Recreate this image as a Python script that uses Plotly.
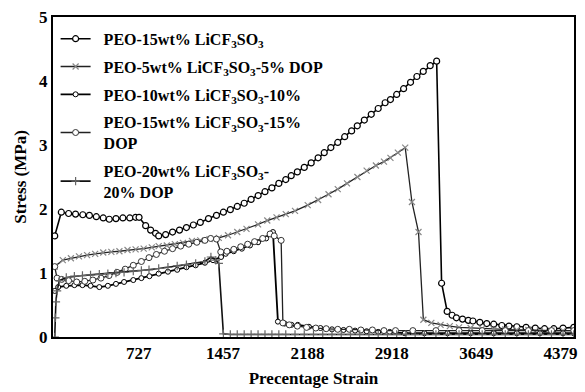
import plotly.graph_objects as go

# Stress-strain curves of PEO / LiCF3SO3 / DOP polymer electrolyte films
x_tick_vals = [727, 1457, 2188, 2918, 3649, 4379]
y_tick_vals = [0, 1, 2, 3, 4, 5]

strain_15_salt = [0, 57, 120, 180, 243, 300, 360, 420, 472, 530, 590, 650, 700, 730, 787, 830, 873, 900,
                  960, 1020, 1080, 1140, 1200, 1260, 1331, 1400, 1460, 1520, 1580, 1640, 1700, 1761,
                  1820, 1880, 1940, 2000, 2047, 2100, 2160, 2220, 2280, 2333, 2390, 2450, 2510, 2570,
                  2619, 2680, 2740, 2800, 2860, 2906, 2960, 3020, 3080, 3135, 3190, 3250, 3306, 3349,
                  3397, 3440, 3477, 3530, 3580, 3620, 3680, 3740, 3800, 3870, 3932, 4000, 4080, 4160,
                  4240, 4320, 4400, 4493]
stress_15_salt = [1.58, 1.95, 1.93, 1.92, 1.91, 1.90, 1.88, 1.86, 1.84, 1.85, 1.86, 1.86, 1.87, 1.87,
                  1.74, 1.67, 1.62, 1.58, 1.60, 1.64, 1.67, 1.71, 1.75, 1.79, 1.85, 1.90, 1.95, 1.99,
                  2.04, 2.09, 2.15, 2.21, 2.27, 2.33, 2.40, 2.46, 2.52, 2.58, 2.65, 2.72, 2.80, 2.88,
                  2.96, 3.04, 3.13, 3.22, 3.30, 3.39, 3.48, 3.57, 3.66, 3.71, 3.79, 3.88, 3.98, 4.07,
                  4.15, 4.24, 4.31, 0.84, 0.40, 0.34, 0.30, 0.28, 0.26, 0.25, 0.23, 0.21, 0.20, 0.18,
                  0.17, 0.16, 0.15, 0.14, 0.13, 0.13, 0.14, 0.15]

strain_5_dop = [0, 70, 140, 210, 280, 350, 420, 490, 560, 630, 700, 770, 840, 900, 970, 1040, 1110,
                1188, 1260, 1340, 1420, 1500, 1580, 1660, 1760, 1840, 1920, 2000, 2080, 2190, 2280,
                2370, 2450, 2530, 2620, 2700, 2780, 2850, 2906, 2970, 3034, 3092, 3149, 3191, 3260,
                3340, 3420, 3500, 3600, 3700, 3800, 3900, 4000, 4100, 4200, 4300, 4400, 4493]
stress_5_dop = [1.10, 1.20, 1.23, 1.26, 1.28, 1.30, 1.32, 1.33, 1.34, 1.36, 1.37, 1.38, 1.40, 1.42,
                1.43, 1.45, 1.47, 1.50, 1.51, 1.53, 1.55, 1.59, 1.64, 1.69, 1.76, 1.82, 1.87, 1.92,
                1.97, 2.06, 2.14, 2.23, 2.31, 2.40, 2.50, 2.60, 2.68, 2.74, 2.80, 2.88, 2.96, 2.11,
                1.64, 0.27, 0.22, 0.19, 0.17, 0.15, 0.14, 0.13, 0.12, 0.12, 0.11, 0.11, 0.10, 0.10,
                0.10, 0.10]

strain_10_dop = [0, 30, 100, 170, 240, 310, 386, 460, 530, 600, 680, 750, 820, 900, 980, 1060, 1140,
                 1220, 1300, 1370, 1440, 1480, 1550, 1620, 1690, 1760, 1830, 1889, 1932, 1990, 2050,
                 2104, 2200, 2300, 2400, 2500, 2600, 2700, 2800, 2900, 3030, 3200, 3400, 3600, 3800,
                 4000, 4200, 4400, 4493]
stress_10_dop = [0.72, 0.78, 0.80, 0.81, 0.81, 0.80, 0.78, 0.80, 0.83, 0.86, 0.89, 0.92, 0.95, 0.99,
                 1.02, 1.05, 1.09, 1.12, 1.16, 1.20, 1.25, 1.30, 1.34, 1.38, 1.43, 1.48, 1.54, 1.64,
                 0.24, 0.21, 0.19, 0.19, 0.16, 0.14, 0.12, 0.11, 0.10, 0.09, 0.08, 0.08, 0.06, 0.06,
                 0.06, 0.06, 0.06, 0.06, 0.06, 0.06, 0.06]

strain_15_dop = [0, 20, 60, 120, 190, 260, 330, 400, 470, 540, 610, 680, 750, 816, 880, 950, 1020,
                 1090, 1160, 1230, 1300, 1350, 1400, 1437, 1490, 1550, 1610, 1670, 1730, 1800, 1864,
                 1900, 1960, 1975, 2030, 2100, 2180, 2260, 2350, 2450, 2550, 2650, 2750, 2850, 2950,
                 3100, 3300, 3500, 3700, 3900, 4100, 4300, 4493]
stress_15_dop = [1.10, 0.92, 0.90, 0.88, 0.86, 0.87, 0.89, 0.92, 0.96, 1.01, 1.06, 1.12, 1.18, 1.24,
                 1.29, 1.34, 1.38, 1.42, 1.45, 1.48, 1.51, 1.54, 1.53, 1.33, 1.34, 1.37, 1.41, 1.45,
                 1.49, 1.54, 1.61, 1.58, 1.51, 0.22, 0.19, 0.17, 0.15, 0.14, 0.13, 0.12, 0.12, 0.11,
                 0.11, 0.10, 0.10, 0.10, 0.10, 0.10, 0.10, 0.10, 0.10, 0.10, 0.10]

strain_20_dop = [0, 5, 10, 20, 40, 100, 170, 240, 310, 386, 460, 530, 600, 680, 750, 816, 900, 980,
                 1060, 1140, 1220, 1300, 1352, 1394, 1420, 1460, 1520, 1580, 1640, 1700, 1760, 1820,
                 1880, 1940, 2000, 2080, 2160, 2240, 2320, 2400, 2480, 2560, 2640, 2720, 2800, 2880,
                 2960, 3040, 3120, 3200, 3300, 3400, 3500, 3600, 3700, 3800, 3900, 4000, 4100, 4200,
                 4300, 4400, 4493]
stress_20_dop = [0.00, 0.30, 0.55, 0.72, 0.88, 0.93, 0.95, 0.96, 0.97, 0.98, 0.99, 1.00, 1.01, 1.03,
                 1.04, 1.05, 1.07, 1.09, 1.11, 1.13, 1.15, 1.18, 1.25, 1.20, 1.15, 0.05, 0.04, 0.04,
                 0.04, 0.04, 0.04, 0.04, 0.04, 0.04, 0.04, 0.04, 0.04, 0.04, 0.04, 0.04, 0.04, 0.04,
                 0.04, 0.04, 0.04, 0.04, 0.04, 0.04, 0.04, 0.04, 0.04, 0.04, 0.04, 0.04, 0.04, 0.04,
                 0.04, 0.04, 0.04, 0.04, 0.04, 0.04, 0.04]

SALT = "LiCF<sub>3</sub>SO<sub>3</sub>"
PAD = "&nbsp;&nbsp;"
names = [
    f"{PAD}<b>PEO-15wt% {SALT}</b>",
    f"{PAD}<b>PEO-5wt% {SALT}-5% DOP</b>",
    f"{PAD}<b>PEO-10wt% {SALT}-10%</b>",
    f"{PAD}<b>PEO-15wt% {SALT}-15%</b><br>{PAD}<b>DOP</b>",
    f"{PAD}<b>PEO-20wt% {SALT}-</b><br>{PAD}<b>20% DOP</b>",
]

SERIF = "Liberation Serif"

fig = go.Figure()

series = [
    (strain_15_salt, stress_15_salt, "circle", 6, "white", "black", 1.2, "black", 1.6),
    (strain_5_dop, stress_5_dop, "x-thin", 6, "#888888", "#888888", 1.2, "#222222", 1.3),
    (strain_10_dop, stress_10_dop, "circle", 5, "white", "black", 1.0, "black", 1.8),
    (strain_15_dop, stress_15_dop, "circle", 6, "white", "#333333", 1.0, "#222222", 1.3),
    (strain_20_dop, stress_20_dop, "cross-thin", 6, "#666666", "#666666", 1.2, "#111111", 1.6),
]

for i, (xs, ys, sym, size, fill, edge, edge_w, line_c, line_w) in enumerate(series):
    fig.add_trace(go.Scatter(
        x=xs, y=ys, mode="lines+markers", name=names[i], legendgroup=f"g{i}",
        line=dict(color=line_c, width=line_w),
        marker=dict(symbol=sym, size=size, color=fill,
                    line=dict(color=edge, width=edge_w)),
    ))

fig.update_layout(
    width=585, height=392,
    margin=dict(l=53, r=7, t=17, b=53),
    paper_bgcolor="white", plot_bgcolor="white",
    font=dict(family=SERIF, color="black"),
    showlegend=True,
    legend=dict(
        x=0.005, y=0.985, xanchor="left", yanchor="top",
        bgcolor="rgba(0,0,0,0)", borderwidth=0,
        font=dict(family=SERIF, size=16, color="black"),
        itemwidth=30, tracegroupgap=4,
    ),
    xaxis=dict(
        range=[-15, 4495], tickvals=x_tick_vals,
        ticktext=[f"<b>{v}</b>" for v in x_tick_vals],
        tickfont=dict(family=SERIF, size=17),
        showgrid=False, zeroline=False,
        showline=True, linecolor="black", linewidth=2, mirror=True, ticks="",
        title=dict(text="<b>Precentage Strain</b>", font=dict(family=SERIF, size=17), standoff=10),
    ),
    yaxis=dict(
        range=[0, 5], tickvals=y_tick_vals,
        ticktext=[f"<b>{v}</b>" for v in y_tick_vals],
        tickfont=dict(family=SERIF, size=17),
        showgrid=False, zeroline=False,
        showline=True, linecolor="black", linewidth=2, mirror=True, ticks="",
        title=dict(text="<b>Stress (MPa)</b>", font=dict(family=SERIF, size=17), standoff=8),
    ),
)

fig.write_html("out.html")
